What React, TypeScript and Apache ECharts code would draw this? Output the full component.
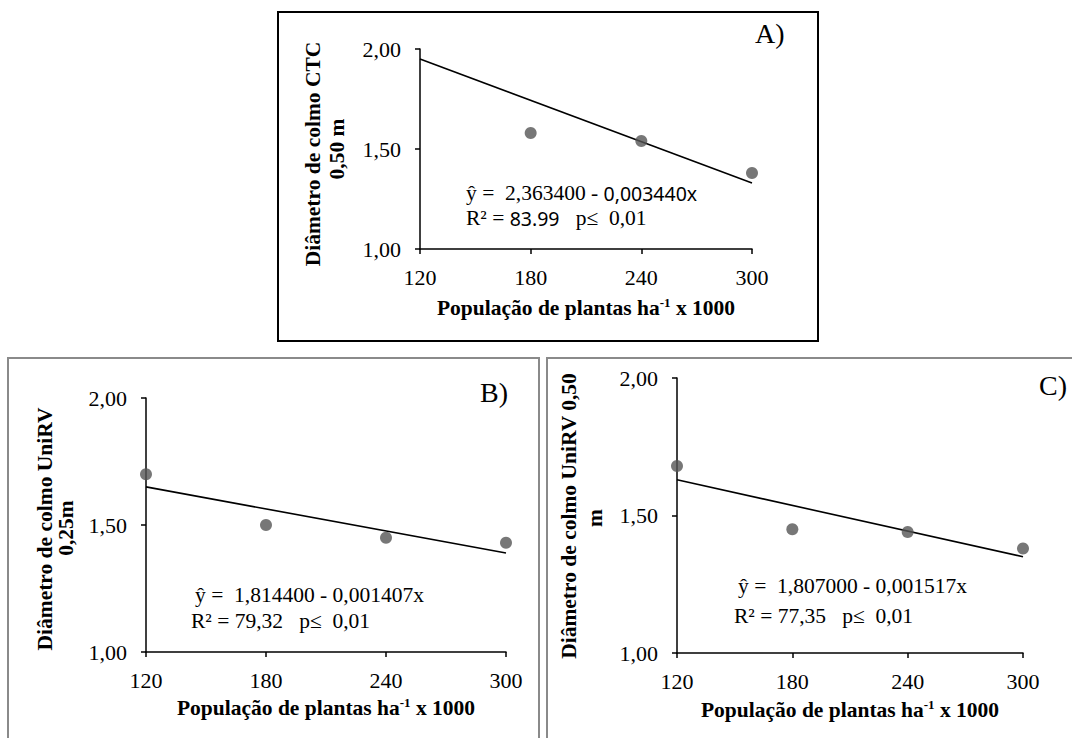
import React, { useEffect, useRef } from "react";
import * as echarts from "echarts";

// ---- data ----
const popA = [180, 240, 300];
const diamA = [1.58, 1.54, 1.38];
const popB = [120, 180, 240, 300];
const diamB = [1.7, 1.5, 1.45, 1.43];
const popC = [120, 180, 240, 300];
const diamC = [1.68, 1.45, 1.44, 1.38];
const trendX = [120, 300];
const trendA = [1.95, 1.33];
const trendB = [1.65, 1.39];
const trendC = [1.63, 1.35];
const xTicks = { min: 120, max: 300, step: 60 };
const yTicks = { min: 1, max: 2, step: 0.5 };

const SERIF = "'Liberation Serif', 'Times New Roman', serif";
const SANS = "'Noto Sans', 'Liberation Sans', sans-serif";

const grids = [
  { left: 420, top: 49, width: 332, height: 200 },
  { left: 146, top: 398, width: 360, height: 254 },
  { left: 677, top: 378, width: 346, height: 275 },
];

function pairs(xs: number[], ys: number[]) {
  return xs.map((x, i) => [x, ys[i]]);
}

export default function App() {
  const ref = useRef<HTMLDivElement>(null);
  useEffect(() => {
    if (!ref.current) return;
    const chart = echarts.init(ref.current, undefined, { renderer: "svg" });

    const xAxes = grids.map((_, i) => ({
      type: "value",
      gridIndex: i,
      min: xTicks.min,
      max: xTicks.max,
      interval: xTicks.step,
      splitLine: { show: false },
      axisLine: { show: true, onZero: false, lineStyle: { color: "#000", width: 1.5 } },
      axisTick: { show: true, length: 5, lineStyle: { color: "#000", width: 1.5 } },
      axisLabel: { color: "#000", fontFamily: SERIF, fontSize: 22, margin: 17 },
    }));
    const yAxes = grids.map((_, i) => ({
      type: "value",
      gridIndex: i,
      min: yTicks.min,
      max: yTicks.max,
      interval: yTicks.step,
      splitLine: { show: false },
      axisLine: { show: true, onZero: false, lineStyle: { color: "#000", width: 1.5 } },
      axisTick: { show: true, length: 5, lineStyle: { color: "#000", width: 1.5 } },
      axisLabel: {
        color: "#000",
        fontFamily: SERIF,
        fontSize: 22,
        margin: 19,
        formatter: (v: number) => v.toFixed(2).replace(".", ","),
      },
    }));

    const pts = [pairs(popA, diamA), pairs(popB, diamB), pairs(popC, diamC)];
    const trends = [pairs(trendX, trendA), pairs(trendX, trendB), pairs(trendX, trendC)];
    const series: any[] = [];
    grids.forEach((_, i) => {
      series.push({
        type: "line",
        xAxisIndex: i,
        yAxisIndex: i,
        data: trends[i],
        showSymbol: false,
        symbol: "none",
        lineStyle: { color: "#000", width: 1.6 },
        z: 2,
      });
      series.push({
        type: "scatter",
        xAxisIndex: i,
        yAxisIndex: i,
        data: pts[i],
        symbolSize: 12,
        itemStyle: { color: "#555555" },
        z: 3,
      });
    });

    const txt = (x: number, y: number, text: string, opts: any = {}) => ({
      type: "text",
      x,
      y,
      rotation: opts.rotation || 0,
      style: {
        text,
        fill: "#000",
        fontFamily: opts.fontFamily || SERIF,
        fontSize: opts.fontSize || 21,
        fontWeight: opts.fontWeight || "normal",
        align: opts.align || "left",
        verticalAlign: "middle",
        textAlign: opts.align || "left",
        textVerticalAlign: "middle",
        rich: opts.rich,
      },
    });

    const richTitle = {
      n: { fontFamily: SERIF, fontSize: 21.5, fontWeight: "bold", lineHeight: 24, fill: "#000" },
      s: { fontFamily: SERIF, fontSize: 13, fontWeight: "bold", lineHeight: 13, verticalAlign: "top", fill: "#000" },
    };
    const xTitle = "{n|População de plantas ha}{s|-1}{n| x 1000}";

    const richEq = {
      t: { fontFamily: SERIF, fontSize: 21.5, fill: "#000" },
      s: { fontFamily: SANS, fontSize: 19.5, fill: "#000" },
    };

    const bold = { fontWeight: "bold", fontSize: 21.5, align: "center", rotation: Math.PI / 2 };

    const graphic = [
      { type: "rect", shape: { x: 278, y: 12, width: 540, height: 329 }, style: { fill: "none", stroke: "#000", lineWidth: 2 } },
      { type: "rect", shape: { x: 8, y: 358, width: 531, height: 400 }, style: { fill: "none", stroke: "#8a8a8a", lineWidth: 2 } },
      { type: "rect", shape: { x: 547, y: 358, width: 540, height: 400 }, style: { fill: "none", stroke: "#8a8a8a", lineWidth: 2 } },
      // panel letters
      txt(755, 33, "A)", { fontSize: 28 }),
      txt(480, 392, "B)", { fontSize: 28 }),
      txt(1039, 385, "C)", { fontSize: 28 }),
      // x titles
      txt(586, 308, xTitle, { align: "center", rich: richTitle }),
      txt(326, 708, xTitle, { align: "center", rich: richTitle }),
      txt(850, 710, xTitle, { align: "center", rich: richTitle }),
      // y titles
      txt(313, 154, "Diâmetro de colmo CTC", bold),
      txt(337, 149, "0,50 m", bold),
      txt(45, 529, "Diâmetro de colmo UniRV", bold),
      txt(66, 528, "0,25m", bold),
      txt(569, 516, "Diâmetro de colmo UniRV 0,50", bold),
      txt(595, 518, "m", bold),
      // equations
      txt(466, 193, "{t|ŷ =  2,363400 - }{s|0,003440x}", { rich: richEq }),
      txt(466, 218, "{t|R² = }{s|83.99}{t|   p≤  0,01}", { rich: richEq }),
      txt(195, 595, "{t|ŷ =  1,814400 - 0,001407x}", { rich: richEq }),
      txt(191, 621, "{t|R² = 79,32   p≤  0,01}", { rich: richEq }),
      txt(738, 586, "{t|ŷ =  1,807000 - 0,001517x}", { rich: richEq }),
      txt(734, 616, "{t|R² = 77,35   p≤  0,01}", { rich: richEq }),
    ];

    chart.setOption({
      animation: false,
      backgroundColor: "#fff",
      grid: grids.map((g) => ({ ...g, containLabel: false })),
      xAxis: xAxes,
      yAxis: yAxes,
      series,
      graphic,
    });
    return () => chart.dispose();
  }, []);
  return (
    <div
      ref={ref}
      style={{ position: "absolute", left: 0, top: 0, width: 1072, height: 738, background: "#fff" }}
    />
  );
}
